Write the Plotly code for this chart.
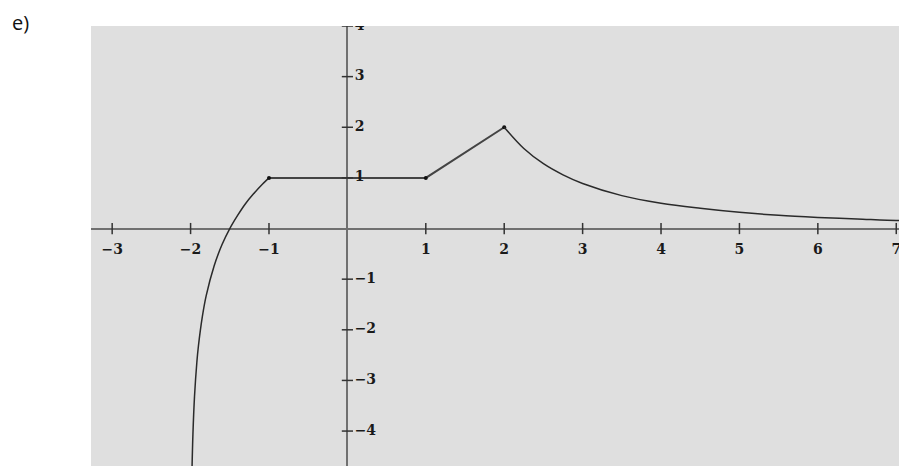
import plotly.graph_objects as go

# values
log_x = [-1.981, -1.97, -1.95, -1.92, -1.9, -1.85, -1.8, -1.7, -1.6, -1.5, -1.4, -1.3, -1.2, -1.1, -1.0]
log_y = [-4.70, -4.06, -3.32, -2.64, -2.32, -1.74, -1.32, -0.74, -0.32, 0.0, 0.26, 0.49, 0.68, 0.85, 1.0]

seg_x = [-1, 1, 2]
seg_y = [1, 1, 2]

decay_x = [2, 2.25, 2.5, 2.75, 3, 3.5, 4, 4.5, 5, 5.5, 6, 6.5, 7, 7.1]
decay_y = [2, 1.58, 1.28, 1.06, 0.89, 0.65, 0.5, 0.40, 0.32, 0.26, 0.22, 0.19, 0.16, 0.16]

x_ticks = [-3, -2, -1, 1, 2, 3, 4, 5, 6, 7]
x_tick_labels = ["−3", "−2", "−1", "1", "2", "3", "4", "5", "6", "7"]
y_ticks = [4, 3, 2, 1, -1, -2, -3, -4]
y_tick_labels = ["4", "3", "2", "1", "−1", "−2", "−3", "−4"]

line_col = "#2a2a2a"
tick_font = dict(family="DejaVu Serif", size=14, color="#1a1a1a")

fig = go.Figure()

fig.add_trace(go.Scatter(
    x=log_x, y=log_y, mode="lines", line=dict(color=line_col, width=1.5, shape="spline")
))
fig.add_trace(go.Scatter(
    x=seg_x, y=seg_y, mode="lines+markers",
    line=dict(color="#444", width=2),
    marker=dict(color="#111", size=4)
))
fig.add_trace(go.Scatter(
    x=decay_x, y=decay_y, mode="lines", line=dict(color=line_col, width=1.5, shape="spline")
))

# tick marks on the axes
fig.add_trace(go.Scatter(
    x=x_ticks, y=[0] * len(x_ticks), mode="markers",
    marker=dict(symbol="line-ns", size=8, line=dict(color="#333", width=1.5))
))
fig.add_trace(go.Scatter(
    x=[0] * len(y_ticks), y=y_ticks, mode="markers",
    marker=dict(symbol="line-ew", size=8, line=dict(color="#333", width=1.5))
))
# tick labels (invisible markers only push the text away from the axis)
fig.add_trace(go.Scatter(
    x=x_ticks, y=[0] * len(x_ticks), mode="markers+text",
    marker=dict(size=22, opacity=0),
    text=["<b>%s</b>" % t for t in x_tick_labels], textposition="bottom center",
    textfont=tick_font
))
fig.add_trace(go.Scatter(
    x=[0] * len(y_ticks), y=y_ticks, mode="markers+text",
    marker=dict(size=10, opacity=0),
    text=["<b>%s</b>" % t for t in y_tick_labels], textposition="middle right",
    textfont=tick_font
))

fig.update_xaxes(range=[-3.27, 7.035], showgrid=False, showticklabels=False, ticks="",
                 zeroline=True, zerolinecolor="#707070", zerolinewidth=2)
fig.update_yaxes(range=[-4.69, 4.0], showgrid=False, showticklabels=False, ticks="",
                 zeroline=True, zerolinecolor="#707070", zerolinewidth=2)

fig.add_annotation(
    text="e)", xref="paper", yref="paper", x=-0.1, y=1.007, xanchor="left", yanchor="middle",
    showarrow=False, font=dict(family="Open Sans", size=20, color="#111")
)

fig.update_layout(
    width=899, height=466,
    margin=dict(l=91, r=0, t=26, b=0),
    plot_bgcolor="#dfdfdf", paper_bgcolor="white",
    showlegend=False, hovermode=False
)

fig.write_html("out.html", config={"displayModeBar": False},
               post_script="document.body.style.margin='0';")
